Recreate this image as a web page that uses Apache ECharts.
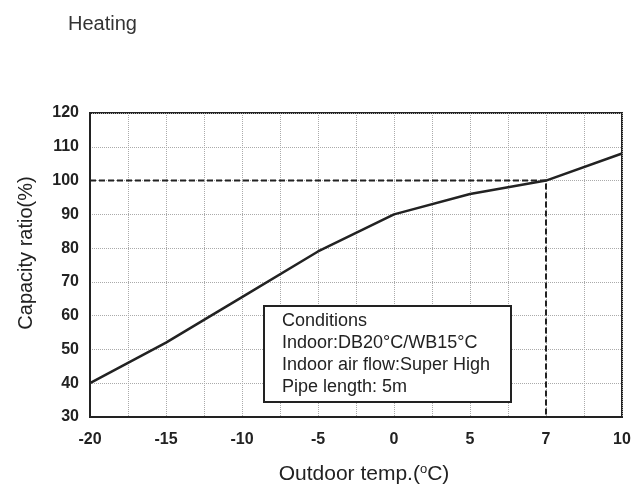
<!DOCTYPE html>
<html><head><meta charset="utf-8">
<script src="https://cdn.jsdelivr.net/npm/echarts@6/dist/echarts.min.js"></script>
<style>html,body{margin:0;padding:0;background:#fff}#c{width:640px;height:493px}</style>
</head><body><div id="c"></div>
<script>
// Data
const tempLabels = ['-20', '-15', '-10', '-5', '0', '5', '7', '10'];
const capacity = [40, 52, 65.5, 79, 90, 96, 100, 108];
const yTicks = [30, 40, 50, 60, 70, 80, 90, 100, 110, 120];
const refTemp = '7';
const refCapacity = 100;
const conditionLines = ['Conditions', 'Indoor:DB20°C/WB15°C', 'Indoor air flow:Super High', 'Pipe length: 5m'];

const refIdx = tempLabels.indexOf(refTemp);
const lineData = capacity.map((v, i) => [i, v]);
const refData = [[0, refCapacity], [refIdx, refCapacity], [refIdx, yTicks[0]]];

const chart = echarts.init(document.getElementById('c'));
const font = 'Liberation Sans, Arial, sans-serif';
chart.setOption({
  animation: false,
  title: { text: 'Heating', left: 63, top: 9, textStyle: { fontSize: 20, fontWeight: 'normal', color: '#333', fontFamily: font } },
  grid: { left: 90, right: 18, top: 113, bottom: 76, show: true, borderColor: '#222', borderWidth: 2 },
  xAxis: {
    type: 'value', min: 0, max: tempLabels.length - 1, interval: 0.5,
    axisLine: { show: true, lineStyle: { color: '#222', width: 2 } },
    axisTick: { show: false },
    splitLine: { show: true, lineStyle: { color: '#aaa', type: 'dotted', width: 1 } },
    axisLabel: { margin: 15, color: '#222', fontSize: 16, fontWeight: 'bold', fontFamily: font,
      formatter: v => Number.isInteger(v) ? tempLabels[v] : '' },
    name: '{a|Outdoor temp.(}{s|o}{a|C)}', nameLocation: 'middle', nameGap: 46,
    nameTextStyle: { padding: [0, 0, 0, 16], rich: {
      a: { fontSize: 21, color: '#222', fontFamily: font },
      s: { fontSize: 13, color: '#222', fontFamily: font, verticalAlign: 'top', padding: [0, 0, 10, 0] }
    } }
  },
  yAxis: {
    type: 'value', min: yTicks[0], max: yTicks[yTicks.length - 1], interval: 10,
    axisLine: { show: true, lineStyle: { color: '#222', width: 2 } },
    axisTick: { show: false },
    splitLine: { show: true, lineStyle: { color: '#aaa', type: 'dotted', width: 1 } },
    axisLabel: { margin: 11, color: '#222', fontSize: 16, fontWeight: 'bold', fontFamily: font },
    name: 'Capacity ratio(%)', nameLocation: 'middle', nameGap: 54,
    nameTextStyle: { fontSize: 20, color: '#222', fontFamily: font, padding: [0, 0, 0, 24] }
  },
  series: [
    { type: 'line', data: refData, symbol: 'none', lineStyle: { color: '#222', width: 2, type: [6, 3] }, z: 3 },
    { type: 'line', data: lineData, symbol: 'none', lineStyle: { color: '#222', width: 2.5 }, z: 4 }
  ],
  graphic: [
    { type: 'rect', left: 263, top: 305, shape: { width: 247, height: 96 }, style: { fill: '#fff', stroke: '#222', lineWidth: 2 }, z: 100 },
    { type: 'text', left: 282, top: 310, z: 101,
      style: { text: conditionLines.join('\n'), fontSize: 18, lineHeight: 22, fill: '#222', fontFamily: font } }
  ]
});
</script></body></html>
